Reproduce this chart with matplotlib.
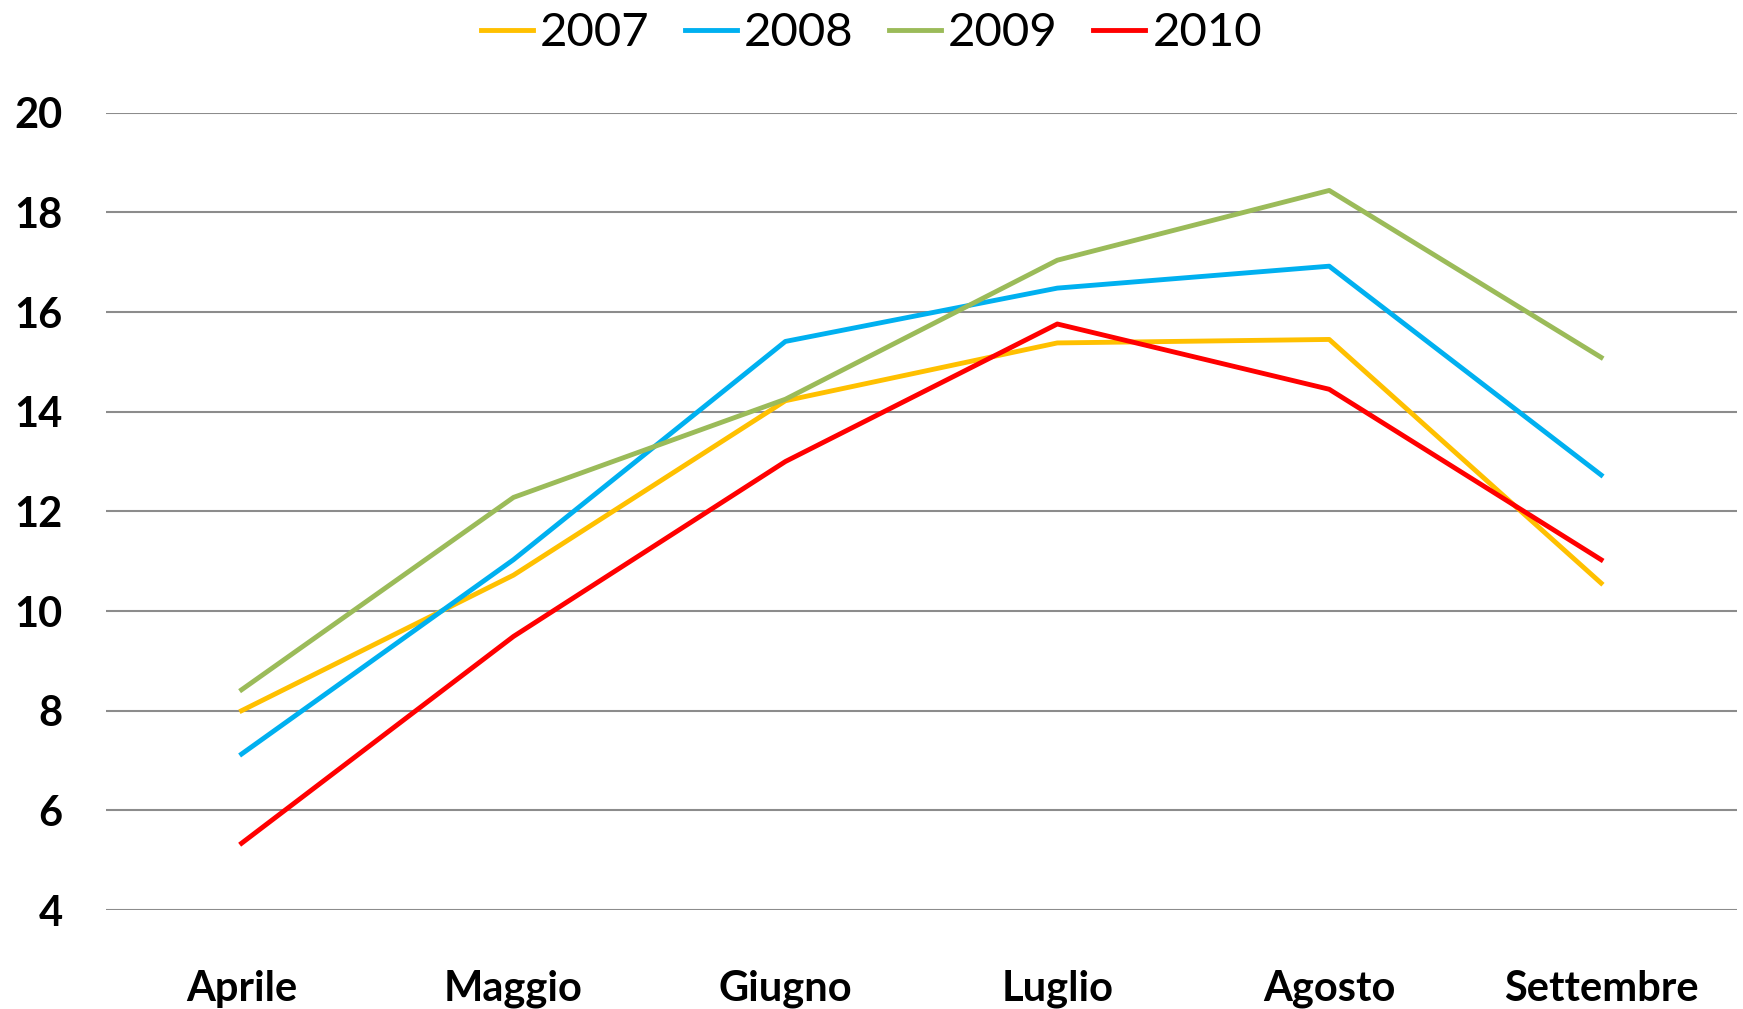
import matplotlib.pyplot as plt

months = ["Aprile", "Maggio", "Giugno", "Luglio", "Agosto", "Settembre"]
years = ["2007", "2008", "2009", "2010"]
v2007 = [8.0, 10.72, 14.22, 15.38, 15.45, 10.56]
v2008 = [7.13, 11.03, 15.41, 16.48, 16.92, 12.73]
v2009 = [8.42, 12.28, 14.25, 17.04, 18.44, 15.09]
v2010 = [5.34, 9.49, 13.0, 15.76, 14.45, 11.03]
colors = ["#FFC000", "#00B0F0", "#9BBB59", "#FF0000"]
yticks = [4, 6, 8, 10, 12, 14, 16, 18, 20]

plt.rcParams['font.family'] = ['Lato', 'DejaVu Sans']

fig = plt.figure(figsize=(17.43, 10.09), dpi=100)
ax = fig.add_axes([0.0606, 0.0981, 0.936, 0.7902])

x = range(len(months))
for vals, c, lab in zip([v2007, v2008, v2009, v2010], colors, years):
    ax.plot(x, vals, color=c, lw=3.5, label=lab)

ax.set_xlim(-0.5, len(months) - 0.5)
ax.set_ylim(4, 20)
ax.set_yticks(yticks)
ax.set_xticks(list(x))
ax.set_xticklabels(months)
ax.yaxis.grid(True, color="#8c8c8c", lw=1.5)
ax.set_axisbelow(True)
for s in ax.spines.values():
    s.set_visible(False)
ax.tick_params(length=0, labelsize=30)
ax.tick_params(axis='x', pad=43)
ax.tick_params(axis='y', pad=31)
for t in ax.get_xticklabels() + ax.get_yticklabels():
    t.set_fontweight('bold')

fig.legend(loc='center', bbox_to_anchor=(0.5, 0.967), ncol=4, frameon=False,
           fontsize=34, handlelength=1.1, handletextpad=0.15, columnspacing=0.75)

fig.savefig("out.png", dpi=100)
